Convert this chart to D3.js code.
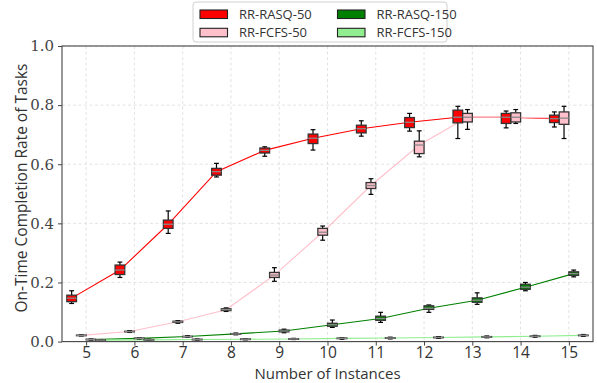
<!DOCTYPE html>
<html><head><meta charset="utf-8">
<script src="https://cdn.jsdelivr.net/npm/d3@7"></script>
<style>body{margin:0;background:#fff}svg{display:block}</style>
</head><body><svg id="c" width="597" height="383"></svg>
<script>
const instances = [5,6,7,8,9,10,11,12,13,14,15];
const yTicks = [0,0.2,0.4,0.6,0.8,1.0];
const seriesNames = ["RR-RASQ-50","RR-FCFS-50","RR-RASQ-150","RR-FCFS-150"];
const seriesColors = ["#ff0000","#ffc0cb","#008000","#90ee90"];
const seriesOffsets = [-0.3,-0.1,0.1,0.3];
// [lowWhisker, q1, median, q3, highWhisker]
const rasq50 = [
 [0.129,0.135,0.147,0.157,0.172],
 [0.217,0.227,0.242,0.259,0.269],
 [0.366,0.383,0.397,0.411,0.442],
 [0.557,0.563,0.575,0.586,0.603],
 [0.627,0.638,0.647,0.655,0.659],
 [0.648,0.670,0.688,0.702,0.717],
 [0.695,0.706,0.720,0.732,0.747],
 [0.712,0.724,0.742,0.758,0.772],
 [0.687,0.740,0.759,0.783,0.796],
 [0.723,0.738,0.759,0.772,0.780],
 [0.726,0.741,0.754,0.766,0.777]
];
const fcfs50 = [
 [0.019,0.020,0.021,0.022,0.023],
 [0.031,0.033,0.034,0.035,0.037],
 [0.062,0.065,0.067,0.069,0.071],
 [0.102,0.105,0.108,0.111,0.114],
 [0.204,0.217,0.225,0.234,0.250],
 [0.343,0.360,0.370,0.383,0.391],
 [0.498,0.518,0.528,0.538,0.551],
 [0.625,0.636,0.665,0.678,0.713],
 [0.718,0.743,0.759,0.772,0.785],
 [0.738,0.743,0.759,0.774,0.785],
 [0.687,0.735,0.756,0.777,0.796]
];
const rasq150 = [
 [0.005,0.006,0.007,0.008,0.009],
 [0.009,0.010,0.011,0.012,0.013],
 [0.015,0.016,0.017,0.018,0.020],
 [0.023,0.025,0.026,0.027,0.029],
 [0.030,0.033,0.036,0.039,0.042],
 [0.048,0.052,0.057,0.062,0.073],
 [0.065,0.072,0.078,0.086,0.099],
 [0.099,0.109,0.113,0.121,0.124],
 [0.126,0.133,0.140,0.148,0.165],
 [0.172,0.177,0.184,0.194,0.200],
 [0.219,0.224,0.230,0.236,0.242]
];
const fcfs150 = [
 [0.003,0.004,0.005,0.006,0.007],
 [0.004,0.005,0.006,0.007,0.008],
 [0.005,0.006,0.007,0.008,0.009],
 [0.006,0.007,0.008,0.009,0.010],
 [0.007,0.008,0.009,0.010,0.011],
 [0.008,0.010,0.011,0.012,0.013],
 [0.009,0.011,0.012,0.013,0.015],
 [0.011,0.013,0.014,0.015,0.017],
 [0.013,0.015,0.016,0.017,0.019],
 [0.015,0.017,0.018,0.019,0.021],
 [0.018,0.020,0.021,0.022,0.024]
];
const allSeries = [rasq50, fcfs50, rasq150, fcfs150];

const svg = d3.select("#c");
const L=62, R=593, T=46, B=341.6;
const x = d3.scaleLinear().domain([4.5,15.5]).range([L,R]);
const y = d3.scaleLinear().domain([0,1]).range([B,T]);

// grid
const g = svg.append("g");
g.selectAll(".gx").data(instances).join("line")
  .attr("x1",d=>x(d)).attr("x2",d=>x(d)).attr("y1",T).attr("y2",B)
  .attr("stroke","#dcdcdc").attr("stroke-width",0.8).attr("stroke-dasharray","3,2.5");
g.selectAll(".gy").data(yTicks).join("line")
  .attr("x1",L).attr("x2",R).attr("y1",d=>y(d)).attr("y2",d=>y(d))
  .attr("stroke","#dcdcdc").attr("stroke-width",0.8).attr("stroke-dasharray","3,2.5");

// lines through medians
allSeries.forEach((s,i)=>{
  const line = d3.line().x((d,j)=>x(instances[j]+seriesOffsets[i])).y(d=>y(d[2]));
  svg.append("path").attr("d",line(s)).attr("fill","none")
    .attr("stroke",seriesColors[i]).attr("stroke-width",1.1);
});

// boxes
const bw = x(0.2)-x(0);
allSeries.forEach((s,i)=>{
  const gg = svg.append("g");
  s.forEach((d,j)=>{
    const cx = x(instances[j]+seriesOffsets[i]);
    const cap = bw*0.5;
    gg.append("line").attr("x1",cx).attr("x2",cx).attr("y1",y(d[0])).attr("y2",y(d[1])).attr("stroke","#000").attr("stroke-width",1.2);
    gg.append("line").attr("x1",cx).attr("x2",cx).attr("y1",y(d[3])).attr("y2",y(d[4])).attr("stroke","#000").attr("stroke-width",1.2);
    gg.append("line").attr("x1",cx-cap/2).attr("x2",cx+cap/2).attr("y1",y(d[0])).attr("y2",y(d[0])).attr("stroke","#000").attr("stroke-width",1.2);
    gg.append("line").attr("x1",cx-cap/2).attr("x2",cx+cap/2).attr("y1",y(d[4])).attr("y2",y(d[4])).attr("stroke","#000").attr("stroke-width",1.2);
    gg.append("rect").attr("x",cx-bw/2).attr("width",bw).attr("y",y(d[3])).attr("height",Math.max(0.5,y(d[1])-y(d[3])))
      .attr("fill",seriesColors[i]).attr("stroke","#333").attr("stroke-width",1.3);
    gg.append("line").attr("x1",cx-bw/2).attr("x2",cx+bw/2).attr("y1",y(d[2])).attr("y2",y(d[2])).attr("stroke","#888").attr("stroke-width",1.3);
  });
});

// frame
svg.append("rect").attr("x",L).attr("y",T).attr("width",R-L).attr("height",B-T)
  .attr("fill","none").attr("stroke","#444").attr("stroke-width",1.1);

// y axis
const ya = svg.append("g").attr("transform",`translate(${L},0)`)
  .call(d3.axisLeft(y).tickValues(yTicks).tickFormat(d3.format(".1f")).tickSize(4).tickSizeOuter(0));
ya.select(".domain").remove();
ya.selectAll("line").attr("stroke","#444");
ya.selectAll("text").attr("font-family","'DejaVu Serif',serif").attr("font-size",15).attr("fill","#444").attr("dx","-1");

// x axis
const xa = svg.append("g").attr("transform",`translate(0,${B})`)
  .call(d3.axisBottom(x).tickValues(instances).tickFormat(d3.format("d")).tickSize(4).tickSizeOuter(0));
xa.select(".domain").remove();
xa.selectAll("line").attr("stroke","#444");
xa.selectAll("text").attr("font-family","'Open Sans',sans-serif").attr("font-size",15.5).attr("fill","#333").attr("y",5).attr("dy","0.72em");

svg.append("text").attr("x",(L+R)/2).attr("y",379).attr("text-anchor","middle")
  .attr("font-family","'Open Sans',sans-serif").attr("font-size",15).attr("fill","#333").text("Number of Instances");
svg.append("text").attr("transform",`translate(27,188) rotate(-90)`).attr("text-anchor","middle")
  .attr("font-family","'Open Sans',sans-serif").attr("font-size",15.5).attr("fill","#333").text("On-Time Completion Rate of Tasks");

// legend
const lg = svg.append("g");
lg.append("rect").attr("x",193).attr("y",2).attr("width",254).attr("height",40).attr("rx",3)
  .attr("fill","#fff").attr("stroke","#d0d0d0");
seriesNames.forEach((n,i)=>{
  const col = Math.floor(i/2), row = i%2;
  const lx = 200 + col*137.5, ly = 10 + row*18.3;
  lg.append("rect").attr("x",lx).attr("y",ly).attr("width",27.5).attr("height",8.5)
    .attr("fill",seriesColors[i]).attr("stroke","#222").attr("stroke-width",1.1);
  lg.append("text").attr("x",lx+39).attr("y",ly+4.5).attr("dy","0.35em")
    .attr("font-family","'Open Sans',sans-serif").attr("font-size",13).attr("fill","#333").text(n);
});
</script></body></html>
